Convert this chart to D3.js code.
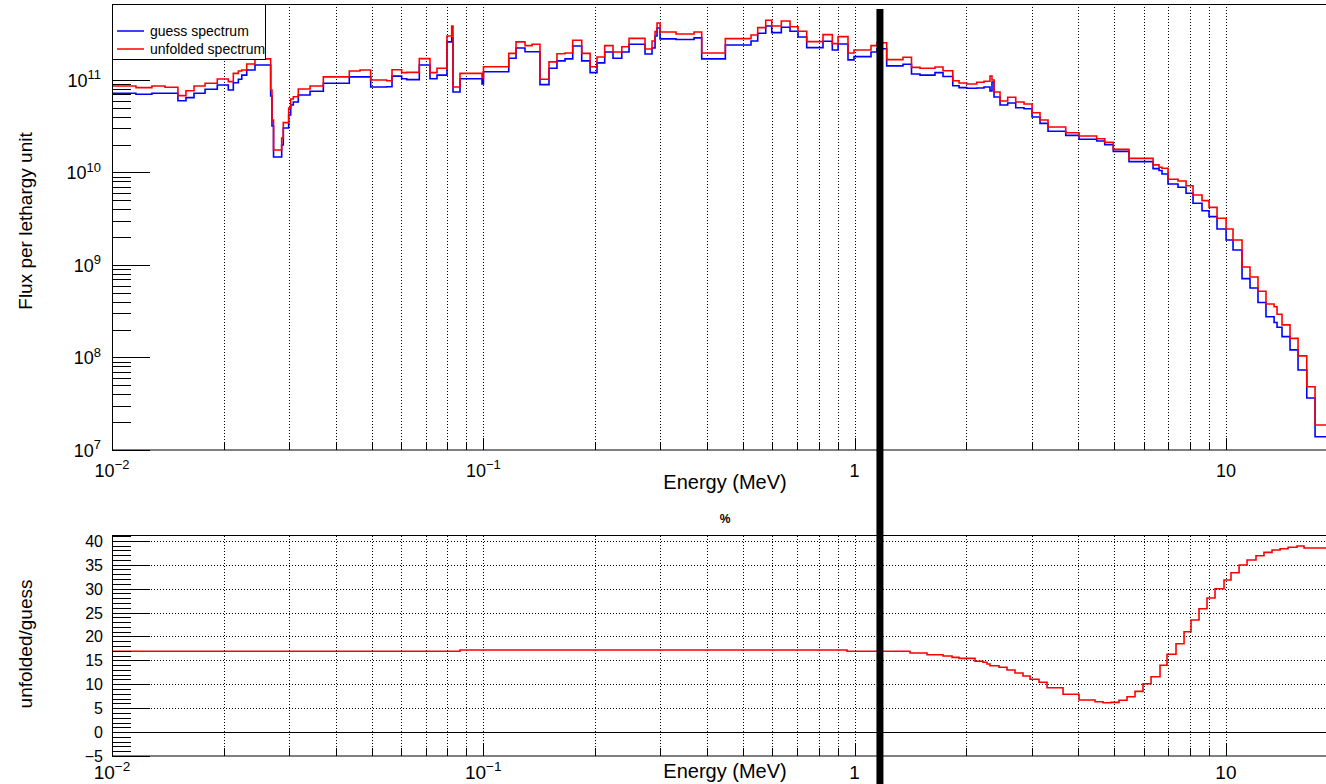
<!DOCTYPE html>
<html>
<head>
<meta charset="utf-8">
<script src="https://d3js.org/d3.v7.min.js"></script>
<style>
  body { margin: 0; background: #fff; overflow: hidden; }
  text { font-family: "Liberation Sans", Arial, Helvetica, sans-serif; fill: #000; }
</style>
</head>
<body>
<script>
var width = 1326, height = 784;

// spectrum bin edges (MeV)
var specEdges = [0.0100, 0.01160, 0.01281, 0.01389, 0.01505, 0.01582, 0.01663, 0.01781, 0.01921, 0.02057,
  0.02122, 0.02189, 0.02236, 0.02306, 0.02427, 0.02675, 0.02697, 0.02723, 0.02864, 0.02893,
  0.02991, 0.03029, 0.03078, 0.03175, 0.03415, 0.03708, 0.04356, 0.04655, 0.04974, 0.05493,
  0.05677, 0.06028, 0.06218, 0.06724, 0.07185, 0.07504, 0.07983, 0.08220, 0.08287, 0.08654,
  0.09920, 0.1001, 0.1171, 0.1225, 0.1295, 0.1353, 0.1421, 0.1503, 0.1579, 0.1660,
  0.1741, 0.1841, 0.1939, 0.2024, 0.2123, 0.2235, 0.2360, 0.2469, 0.2726, 0.2847,
  0.2901, 0.2937, 0.2992, 0.3304, 0.3695, 0.3874, 0.4486, 0.5260, 0.5483, 0.5763,
  0.5981, 0.6348, 0.6699, 0.7040, 0.7430, 0.8220, 0.8708, 0.9024, 0.9598, 0.9963,
  1.107, 1.149, 1.220, 1.350, 1.423, 1.500, 1.646, 1.730, 1.838, 1.911,
  2.004, 2.132, 2.231, 2.315, 2.344, 2.374, 2.464, 2.584, 2.716, 2.859,
  3.005, 3.157, 3.318, 3.703, 4.022, 4.487, 4.716, 4.973, 5.483, 6.364,
  6.604, 6.728, 6.983, 7.430, 7.809, 8.155, 8.622, 9.005, 9.463, 10.01,
  10.45, 11.05, 11.61, 12.20, 12.82, 13.48, 13.73, 14.16, 14.88, 15.64,
  16.51, 17.38, 20.0];

var guessFlux = [7.18e10, 7.00e10, 7.18e10, 7.18e10, 5.97e10, 6.44e10, 7.18e10, 7.93e10, 8.83e10, 7.80e10,
  9.35e10, 1.02e11, 1.13e11, 1.28e11, 1.45e11, 6.71e10, 3.18e10, 1.47e10, 1.98e10, 3.03e10,
  4.18e10, 5.37e10, 5.78e10, 6.88e10, 7.55e10, 9.21e10, 1.08e11, 1.08e11, 8.40e10, 8.46e10,
  1.10e11, 1.03e11, 1.01e11, 1.45e11, 1.03e11, 1.13e11, 2.58e11, 2.85e11, 7.42e10, 1.03e11,
  9.05e10, 1.23e11, 1.72e11, 2.22e11, 2.02e11, 2.02e11, 8.90e10, 1.34e11, 1.61e11, 1.69e11,
  2.33e11, 1.61e11, 1.20e11, 1.53e11, 2.01e11, 1.72e11, 2.01e11, 2.43e11, 1.91e11, 2.22e11,
  2.99e11, 3.65e11, 2.78e11, 2.74e11, 2.85e11, 1.69e11, 2.39e11, 2.64e11, 3.20e11, 3.84e11,
  3.25e11, 3.71e11, 3.36e11, 2.92e11, 2.24e11, 2.62e11, 2.11e11, 2.45e11, 1.65e11, 1.79e11,
  2.01e11, 2.18e11, 1.42e11, 1.48e11, 1.16e11, 1.13e11, 1.20e11, 1.09e11, 8.68e10, 8.26e10,
  8.13e10, 8.19e10, 8.40e10, 7.60e10, 9.51e10, 6.55e10, 5.37e10, 5.64e10, 5.02e10, 4.89e10,
  3.98e10, 3.40e10, 2.79e10, 2.52e10, 2.29e10, 2.19e10, 2.00e10, 1.69e10, 1.31e10, 1.10e10,
  1.05e10, 9.63e9, 7.51e9, 6.92e9, 5.96e9, 4.65e9, 3.86e9, 3.33e9, 2.45e9, 1.86e9,
  1.45e9, 7.13e8, 5.64e8, 3.93e8, 2.76e8, 2.39e8, 2.12e8, 1.68e8, 1.21e8, 7.33e7,
  3.65e7, 1.39e7];

var unfoldedFlux = [8.61e10, 8.26e10, 8.61e10, 8.34e10, 6.77e10, 7.66e10, 8.61e10, 9.21e10, 1.025e11, 9.59e10,
  1.18e11, 1.25e11, 1.28e11, 1.49e11, 1.69e11, 7.80e10, 3.69e10, 1.75e10, 2.36e10, 3.46e10,
  4.98e10, 6.23e10, 6.60e10, 7.99e10, 8.61e10, 1.08e11, 1.25e11, 1.28e11, 1.00e11, 9.83e10,
  1.29e11, 1.20e11, 1.21e11, 1.70e11, 1.20e11, 1.34e11, 2.99e11, 3.84e11, 8.40e10, 1.18e11,
  1.05e11, 1.39e11, 1.94e11, 2.58e11, 2.35e11, 2.43e11, 1.02e11, 1.57e11, 1.92e11, 1.96e11,
  2.69e11, 1.94e11, 1.39e11, 1.77e11, 2.35e11, 2.01e11, 2.29e11, 2.82e11, 2.16e11, 2.64e11,
  3.33e11, 4.13e11, 3.30e11, 3.14e11, 3.30e11, 1.96e11, 2.80e11, 3.07e11, 3.68e11, 4.42e11,
  3.84e11, 4.34e11, 3.77e11, 3.36e11, 2.60e11, 3.09e11, 2.47e11, 2.94e11, 1.96e11, 2.11e11,
  2.35e11, 2.53e11, 1.66e11, 1.76e11, 1.37e11, 1.34e11, 1.38e11, 1.26e11, 9.83e10, 9.28e10,
  9.05e10, 9.44e10, 9.68e10, 1.10e11, 1.00e11, 7.42e10, 5.93e10, 6.50e10, 5.78e10, 5.50e10,
  4.43e10, 3.69e10, 3.10e10, 2.69e10, 2.48e10, 2.32e10, 2.12e10, 1.78e10, 1.42e10, 1.21e10,
  1.14e10, 1.11e10, 8.44e9, 8.09e9, 7.20e9, 5.71e9, 4.96e9, 4.20e9, 3.20e9, 2.45e9,
  1.86e9, 9.51e8, 7.42e8, 5.20e8, 3.79e8, 3.54e8, 2.93e8, 2.25e8, 1.61e8, 1.04e8,
  4.83e7, 1.86e7];

// ratio plot bins (MeV) and values (%)
var ratioEdges = [0.0100, 0.08654, 0.9540, 1.410, 1.567, 1.730, 1.830, 1.911, 2.110, 2.217,
  2.273, 2.315, 2.449, 2.573, 2.704, 2.841, 2.968, 3.138, 3.298, 3.642,
  4.022, 4.441, 4.667, 4.903, 5.153, 5.415, 5.691, 5.980, 6.285, 6.645,
  6.940, 7.338, 7.713, 8.054, 8.463, 8.894, 9.346, 9.883, 10.32, 10.85,
  11.40, 12.05, 12.66, 13.31, 13.99, 14.70, 15.54, 16.23, 20.0];
var ratioPct = [16.9, 17.16, 16.89, 16.53, 16.17, 15.90, 15.63, 15.42, 14.80, 14.59,
  14.23, 13.88, 13.54, 12.98, 12.35, 11.72, 11.05, 10.41, 9.28, 7.90,
  6.71, 6.35, 6.14, 6.22, 6.64, 7.40, 8.52, 10.11, 11.58, 13.96,
  16.26, 18.47, 20.98, 23.43, 25.79, 28.03, 29.97, 31.79, 33.32, 34.92,
  35.97, 36.87, 37.58, 38.06, 38.33, 38.63, 38.90, 38.48];

var xMajor = [0.01, 0.1, 1, 10];
var xMajorBase = ['10', '10', '1', '10'];
var xMajorSup = ['\u22122', '\u22121', '', ''];
var yTopMajor = [1e7, 1e8, 1e9, 1e10, 1e11];
var yTopSup = ['7', '8', '9', '10', '11'];
var ratioMajor = [-5, 0, 5, 10, 15, 20, 25, 30, 35, 40];
var legendLabels = ['guess spectrum', 'unfolded spectrum'];
var markerEnergy = 1.17;

var svg = d3.select('body').append('svg')
    .attr('width', width)
    .attr('height', height);

var x = d3.scaleLog().domain([0.01, 20]).range([112, 1337.7]);
var yTop = d3.scaleLog().domain([1e7, 6.63e11]).range([450, 4]);
var yBot = d3.scaleLinear().domain([-5, 41.1]).range([756, 535.5]);

var xTickVals = x.ticks().filter(function(d) { return d < 20; });
var xGridVals = xTickVals.filter(function(d) { return d > 0.01; });

// clips
var defs = svg.append('defs');
defs.append('clipPath').attr('id', 'clipTop').append('rect')
    .attr('x', 112).attr('y', 4).attr('width', 1226).attr('height', 446);
defs.append('clipPath').attr('id', 'clipBot').append('rect')
    .attr('x', 112).attr('y', 535.5).attr('width', 1226).attr('height', 220.5);

function histPath(edges, vals, ys, fromBase) {
  var p = d3.path();
  var base = ys.range()[0];
  p.moveTo(x(edges[0]), fromBase ? base : ys(vals[0]));
  vals.forEach(function(v, i) {
    p.lineTo(x(edges[i]), ys(v));
    p.lineTo(x(edges[i + 1]), ys(v));
  });
  if (fromBase) p.lineTo(x(edges[edges.length - 1]), base);
  return p.toString();
}

function supLabel(g, px, py, base, sup, size, anchor) {
  var t = g.append('text')
      .attr('x', px).attr('y', py)
      .attr('text-anchor', anchor)
      .style('font-size', size + 'px');
  t.append('tspan').text(base);
  if (sup) t.append('tspan').attr('dy', -size * 0.42).style('font-size', (size * 0.72) + 'px').text(sup);
}

// ---------- upper pad ----------
var topPad = svg.append('g');
topPad.selectAll('.vgrid').data(xGridVals).enter().append('line')
    .attr('x1', function(d) { return Math.round(x(d)) + 0.5; })
    .attr('x2', function(d) { return Math.round(x(d)) + 0.5; })
    .attr('y1', 4).attr('y2', 450)
    .attr('stroke', '#000').attr('stroke-dasharray', '1,2');

topPad.append('path')
    .attr('d', histPath(specEdges, guessFlux, yTop, true))
    .attr('clip-path', 'url(#clipTop)')
    .attr('fill', 'none').attr('stroke', '#0000ff').attr('stroke-width', 1.6);
topPad.append('path')
    .attr('d', histPath(specEdges, unfoldedFlux, yTop, true))
    .attr('clip-path', 'url(#clipTop)')
    .attr('fill', 'none').attr('stroke', '#ff0000').attr('stroke-width', 1.6);

// y ticks (log)
var yTopTicks = yTop.ticks().filter(function(d) { return d >= 1e7 && d <= 6.6e11; });
topPad.selectAll('.ytick').data(yTopTicks).enter().append('line')
    .attr('x1', 112)
    .attr('x2', function(d) { return yTopMajor.indexOf(d) >= 0 ? 150 : 131; })
    .attr('y1', function(d) { return Math.round(yTop(d)) + 0.5; })
    .attr('y2', function(d) { return Math.round(yTop(d)) + 0.5; })
    .attr('stroke', '#000');
yTopMajor.forEach(function(d, i) {
  supLabel(topPad, 101, yTop(d) + 7, '10', yTopSup[i], 18, 'end');
});

// x ticks
topPad.selectAll('.xtick').data(xTickVals).enter().append('line')
    .attr('x1', function(d) { return Math.round(x(d)) + 0.5; })
    .attr('x2', function(d) { return Math.round(x(d)) + 0.5; })
    .attr('y1', 450)
    .attr('y2', function(d) { return xMajor.indexOf(d) >= 0 ? 438 : 443; })
    .attr('stroke', '#000');
xMajor.forEach(function(d, i) {
  supLabel(topPad, x(d), 477, xMajorBase[i], xMajorSup[i], 18, 'middle');
});

topPad.append('rect')
    .attr('x', 112.5).attr('y', 4.5).attr('width', 1226).attr('height', 445.5)
    .attr('fill', 'none').attr('stroke', '#000');

topPad.append('text').attr('x', 725).attr('y', 489).attr('text-anchor', 'middle')
    .style('font-size', '20px').text('Energy (MeV)');
topPad.append('text')
    .attr('transform', 'translate(32,221) rotate(-90)')
    .attr('text-anchor', 'middle').style('font-size', '19px')
    .text('Flux per lethargy unit');

// legend
var leg = topPad.append('g');
leg.append('rect').attr('x', 112.5).attr('y', 4.5).attr('width', 153).attr('height', 55)
    .attr('fill', '#fff').attr('stroke', '#000');
[['#0000ff', 31, 36], ['#ff0000', 49, 54]].forEach(function(e, i) {
  leg.append('line').attr('x1', 117).attr('x2', 144).attr('y1', e[1]).attr('y2', e[1])
      .attr('stroke', e[0]).attr('stroke-width', 1.5);
  leg.append('text').attr('x', 150).attr('y', e[2]).style('font-size', '14px').text(legendLabels[i]);
});

// ---------- lower pad ----------
var botPad = svg.append('g');
botPad.append('text').attr('x', 725).attr('y', 523).attr('text-anchor', 'middle')
    .style('font-size', '12px').style('font-weight', 'bold').text('%');

botPad.selectAll('.vgrid').data(xGridVals).enter().append('line')
    .attr('x1', function(d) { return Math.round(x(d)) + 0.5; })
    .attr('x2', function(d) { return Math.round(x(d)) + 0.5; })
    .attr('y1', 536).attr('y2', 756)
    .attr('stroke', '#000').attr('stroke-dasharray', '1,2');
botPad.selectAll('.hgrid').data(ratioMajor.filter(function(d) { return d > 0; })).enter().append('line')
    .attr('x1', 112).attr('x2', 1338)
    .attr('y1', function(d) { return Math.round(yBot(d)) + 0.5; })
    .attr('y2', function(d) { return Math.round(yBot(d)) + 0.5; })
    .attr('stroke', '#000').attr('stroke-dasharray', '1,2');
botPad.append('line').attr('x1', 112).attr('x2', 1338)
    .attr('y1', Math.round(yBot(0)) + 0.5).attr('y2', Math.round(yBot(0)) + 0.5)
    .attr('stroke', '#000');

botPad.append('path')
    .attr('d', histPath(ratioEdges, ratioPct, yBot, false))
    .attr('clip-path', 'url(#clipBot)')
    .attr('fill', 'none').attr('stroke', '#ff0000').attr('stroke-width', 1.6);

var ratioMinor = d3.range(-5, 42, 1);
botPad.selectAll('.ytick').data(ratioMinor).enter().append('line')
    .attr('x1', 112)
    .attr('x2', function(d) { return d % 5 === 0 ? 150 : 131; })
    .attr('y1', function(d) { return Math.round(yBot(d)) + 0.5; })
    .attr('y2', function(d) { return Math.round(yBot(d)) + 0.5; })
    .attr('stroke', '#000');
ratioMajor.forEach(function(d) {
  botPad.append('text').attr('x', 103).attr('y', yBot(d) + 6).attr('text-anchor', 'end')
      .style('font-size', '16px').text(d < 0 ? '\u2212' + Math.abs(d) : d);
});

botPad.selectAll('.xtick').data(xTickVals).enter().append('line')
    .attr('x1', function(d) { return Math.round(x(d)) + 0.5; })
    .attr('x2', function(d) { return Math.round(x(d)) + 0.5; })
    .attr('y1', 756)
    .attr('y2', function(d) { return xMajor.indexOf(d) >= 0 ? 744 : 748; })
    .attr('stroke', '#000');
xMajor.forEach(function(d, i) {
  supLabel(botPad, x(d), 779, xMajorBase[i], xMajorSup[i], 19, 'middle');
});

botPad.append('rect')
    .attr('x', 112.5).attr('y', 535.5).attr('width', 1226).attr('height', 220.5)
    .attr('fill', 'none').attr('stroke', '#000');

botPad.append('text').attr('x', 725).attr('y', 778).attr('text-anchor', 'middle')
    .style('font-size', '20px').text('Energy (MeV)');
botPad.append('text')
    .attr('transform', 'translate(32,644) rotate(-90)')
    .attr('text-anchor', 'middle').style('font-size', '19px')
    .text('unfolded/guess');

// threshold marker
svg.append('line')
    .attr('x1', x(markerEnergy)).attr('x2', x(markerEnergy))
    .attr('y1', 9).attr('y2', height)
    .attr('stroke', '#000').attr('stroke-width', 7);
</script>
</body>
</html>
